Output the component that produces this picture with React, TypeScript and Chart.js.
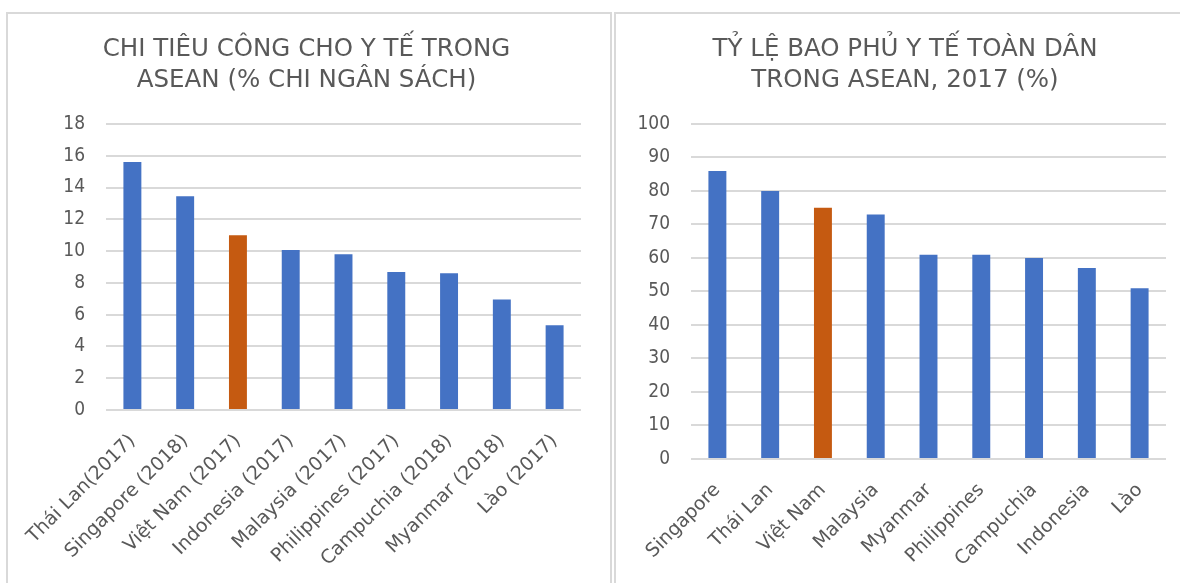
import React, { useEffect, useRef } from "react";
import { Chart, registerables } from "chart.js";

Chart.register(...registerables);

const spendCategories = [
  "Thái Lan(2017)",
  "Singapore (2018)",
  "Việt Nam (2017)",
  "Indonesia (2017)",
  "Malaysia (2017)",
  "Philippines (2017)",
  "Campuchia (2018)",
  "Myanmar (2018)",
  "Lào (2017)",
];
const spendValues = [15.6, 13.45, 11.0, 10.07, 9.8, 8.68, 8.6, 6.95, 5.33];
const spendTitle = ["CHI TIÊU CÔNG CHO Y TẾ TRONG", "ASEAN (% CHI NGÂN SÁCH)"];

const coverCategories = [
  "Singapore",
  "Thái Lan",
  "Việt Nam",
  "Malaysia",
  "Myanmar",
  "Philippines",
  "Campuchia",
  "Indonesia",
  "Lào",
];
const coverValues = [86, 80, 75, 73, 61, 61, 60, 57, 51];
const coverTitle = ["TỶ LỆ BAO PHỦ Y TẾ TOÀN DÂN", "TRONG ASEAN, 2017 (%)"];

const highlight = "Việt Nam";
const BLUE = "#4472C4";
const ORANGE = "#C55A11";
const TEXT = "#595959";
const GRID = "#d9d9d9";
const FONT = "'DejaVu Sans', sans-serif";
const TICK_FONT = "'DejaVu Sans Condensed', 'DejaVu Sans', sans-serif";

type Cfg = {
  labels: string[];
  values: number[];
  title: string[];
  max: number;
  step: number;
  padL: number;
  padR: number;
  yWidth: number;
  rightGap: number;
  xHeight: number;
};

function BarChart({ cfg, width, height }: { cfg: Cfg; width: number; height: number }) {
  const ref = useRef<HTMLCanvasElement>(null);
  useEffect(() => {
    if (!ref.current) return;
    const colors = cfg.labels.map((l) => (l.startsWith(highlight) ? ORANGE : BLUE));
    const chart = new Chart(ref.current, {
      type: "bar",
      data: {
        labels: cfg.labels,
        datasets: [
          {
            data: cfg.values,
            backgroundColor: colors,
            borderWidth: 0,
            categoryPercentage: 1,
            barPercentage: 0.34,
          },
        ],
      },
      options: {
        animation: false,
        responsive: false,
        maintainAspectRatio: false,
        layout: { padding: { left: cfg.padL, right: cfg.padR, top: 0, bottom: 0 } },
        plugins: {
          legend: { display: false },
          tooltip: { enabled: false },
          title: {
            display: true,
            text: cfg.title,
            color: TEXT,
            font: { family: FONT, size: 24.5, weight: "normal", lineHeight: 1.265 },
            padding: { top: 20, bottom: 28 },
          },
        },
        scales: {
          x: {
            grid: { display: false },
            border: { display: false },
            ticks: {
              color: TEXT,
              font: { family: FONT, size: 19 },
              minRotation: 45,
              maxRotation: 45,
              autoSkip: false,
              padding: 12,
            },
            afterFit: (s: any) => {
              s.height = cfg.xHeight;
            },
          },
          y: {
            min: 0,
            max: cfg.max,
            grid: { color: GRID, lineWidth: 2, drawTicks: false },
            border: { display: false },
            ticks: {
              stepSize: cfg.step,
              color: TEXT,
              font: { family: TICK_FONT, size: 19 },
              padding: 21,
            },
            afterFit: (s: any) => {
              s.width = cfg.yWidth;
            },
          },
          y2: {
            position: "right",
            display: cfg.rightGap > 0,
            grid: { display: false },
            border: { display: false },
            ticks: { display: false },
            afterFit: (s: any) => {
              s.width = cfg.rightGap;
            },
          },
        },
      },
    });
    return () => chart.destroy();
  }, [cfg]);
  return <canvas ref={ref} width={width} height={height} style={{ display: "block" }} />;
}

// left: canvas x0 = 8 (page), plot 106..581 page
const leftCfg: Cfg = {
  labels: spendCategories,
  values: spendValues,
  title: spendTitle,
  max: 18,
  step: 2,
  padL: 24,
  padR: 29,
  yWidth: 74,
  rightGap: 0,
  xHeight: 173,
};
// right: canvas x0 = 616 (page), plot 691..1166 page, title centre ~905
const rightCfg: Cfg = {
  labels: coverCategories,
  values: coverValues,
  title: coverTitle,
  max: 100,
  step: 10,
  padL: 10,
  padR: 12,
  yWidth: 65,
  rightGap: 18,
  xHeight: 124,
};

export default function App() {
  const frame = (left: number, width: number): React.CSSProperties => ({
    position: "absolute",
    left,
    top: 12,
    width,
    height: 600,
    border: "2px solid #d9d9d9",
    boxSizing: "border-box",
    background: "#fff",
  });
  return (
    <div style={{ position: "fixed", left: 0, top: 0, width: 1180, height: 583, overflow: "hidden", background: "#fff" }}>
      <div style={frame(6, 606)}>
        <BarChart cfg={leftCfg} width={602} height={569} />
      </div>
      <div style={{ ...frame(614, 700), borderRight: "none" }}>
        <BarChart cfg={rightCfg} width={580} height={569} />
      </div>
    </div>
  );
}
